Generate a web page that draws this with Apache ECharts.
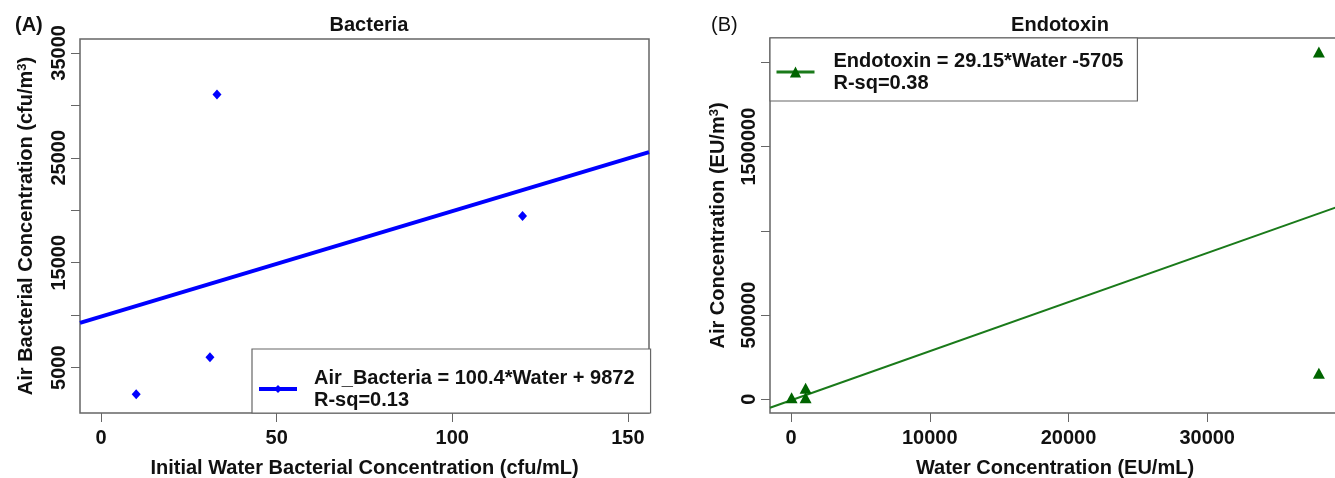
<!DOCTYPE html>
<html>
<head>
<meta charset="utf-8">
<script src="https://cdn.jsdelivr.net/npm/echarts@6/dist/echarts.min.js"></script>
<style>
html,body{margin:0;padding:0;background:#fff;}
#c{width:1335px;height:478px;}
</style>
</head>
<body>
<div id="c"></div>
<script>
// ---- Panel A: Bacteria ----
const bactWater = [10, 31, 33, 120];
const bactAir = [2470, 5990, 31040, 19450];
const bactFitX = [-6, 156];
const bactFitY = [9270, 25534];
const bactXTicks = [0, 50, 100, 150];
const bactYTicks = [5000, 10000, 15000, 20000, 25000, 30000, 35000];
const bactYLabels = [5000, 15000, 25000, 35000];
const bactLegend = 'Air_Bacteria = 100.4*Water + 9872\nR-sq=0.13';

// ---- Panel B: Endotoxin ----
const endoWater = [35, 1045, 1045, 38054, 38054];
const endoAir = [9000, 65500, 9000, 2062000, 155000];
const endoFitX = [-1522, 39576];
const endoFitY = [-50070, 1147940];
const endoXTicks = [0, 10000, 20000, 30000];
const endoYTicks = [0, 500000, 1000000, 1500000, 2000000];
const endoYLabels = [0, 500000, 1500000];
const endoLegend = 'Endotoxin = 29.15*Water -5705\nR-sq=0.38';

const FONT = 'Liberation Sans, Arial, sans-serif';
const TXT = '#111';
const GRAY = '#666';

function zip(a, b) { return a.map((v, i) => [v, b[i]]); }
function plain(v) { return String(v); }

function xAxisCfg(idx, min, max, ticks, name) {
  return {
    type: 'value', gridIndex: idx, min: min, max: max,
    name: name, nameLocation: 'middle', nameGap: 45,
    nameTextStyle: { fontFamily: FONT, fontWeight: 'bold', fontSize: 20, color: TXT },
    axisLine: { show: false, onZero: false },
    axisTick: { show: true, length: 9, lineStyle: { color: GRAY, width: 1 }, customValues: ticks },
    axisLabel: { customValues: ticks, formatter: plain, margin: 15, fontFamily: FONT, fontWeight: 'bold', fontSize: 20, color: TXT },
    splitLine: { show: false }
  };
}
function yAxisCfg(idx, min, max, ticks, labels, name, gap) {
  return {
    type: 'value', gridIndex: idx, min: min, max: max,
    name: name, nameLocation: 'middle', nameGap: gap, nameRotate: 90,
    nameTextStyle: { fontFamily: FONT, fontWeight: 'bold', fontSize: 20, color: TXT,
      rich: { sup: { fontFamily: FONT, fontWeight: 'bold', fontSize: 13, color: TXT, verticalAlign: 'top', lineHeight: 20 } } },
    axisLine: { show: false, onZero: false },
    axisTick: { show: true, length: 9, lineStyle: { color: GRAY, width: 1 }, customValues: ticks },
    axisLabel: { customValues: labels, formatter: plain, rotate: 90, margin: 11, fontFamily: FONT, fontWeight: 'bold', fontSize: 20, color: TXT },
    splitLine: { show: false }
  };
}

const chart = echarts.init(document.getElementById('c'), null, { renderer: 'canvas' });
chart.setOption({
  backgroundColor: '#fff',
  animation: false,
  title: [
    { text: '(A)', left: 10, top: 10, textStyle: { fontFamily: FONT, fontWeight: 'bold', fontSize: 20, color: TXT } },
    { text: 'Bacteria', left: 364, top: 10, textAlign: 'center', textStyle: { fontFamily: FONT, fontWeight: 'bold', fontSize: 20, color: TXT } },
    { text: '(B)', left: 706, top: 10, textStyle: { fontFamily: FONT, fontWeight: 'normal', fontSize: 20, color: TXT } },
    { text: 'Endotoxin', left: 1055, top: 10, textAlign: 'center', textStyle: { fontFamily: FONT, fontWeight: 'bold', fontSize: 20, color: TXT } }
  ],
  grid: [
    { left: 80, top: 39, width: 569, height: 374, show: true, borderColor: GRAY, borderWidth: 1.5, backgroundColor: 'transparent', outerBoundsMode: 'none', containLabel: false },
    { left: 770, top: 38, width: 570, height: 375, show: true, borderColor: GRAY, borderWidth: 1.5, backgroundColor: 'transparent', outerBoundsMode: 'none', containLabel: false }
  ],
  xAxis: [
    xAxisCfg(0, -6, 156, bactXTicks, 'Initial Water Bacterial Concentration (cfu/mL)'),
    xAxisCfg(1, -1522, 39576, endoXTicks, 'Water Concentration (EU/mL)')
  ],
  yAxis: [
    yAxisCfg(0, 680, 36320, bactYTicks, bactYLabels, 'Air Bacterial Concentration (cfu/m{sup|3})', 44),
    yAxisCfg(1, -81500, 2145200, endoYTicks, endoYLabels, 'Air Concentration (EU/m{sup|3})', 42)
  ],
  legend: [
    {
      data: [bactLegend], left: 252, top: 349, orient: 'vertical',
      padding: [18, 16, 2, 5], borderColor: GRAY, borderWidth: 1.2, backgroundColor: '#fff',
      itemWidth: 38, itemHeight: 10, selectedMode: false,
      lineStyle: { width: 4 },
      textStyle: { fontFamily: FONT, fontWeight: 'bold', fontSize: 20, color: TXT, lineHeight: 22, padding: [0, 0, 0, 12] }
    },
    {
      data: [endoLegend], left: 770, top: 38, orient: 'vertical',
      padding: [12, 14, 7, 5], borderColor: GRAY, borderWidth: 1.2, backgroundColor: '#fff',
      itemWidth: 38, itemHeight: 14, selectedMode: false,
      lineStyle: { width: 3 },
      textStyle: { fontFamily: FONT, fontWeight: 'bold', fontSize: 20, color: TXT, lineHeight: 22, padding: [0, 0, 0, 14] }
    }
  ],
  series: [
    {
      name: 'bactPts', type: 'scatter', xAxisIndex: 0, yAxisIndex: 0,
      symbol: 'diamond', symbolSize: [9, 10], itemStyle: { color: '#0000ff', opacity: 1 },
      data: zip(bactWater, bactAir), z: 3
    },
    {
      name: bactLegend, type: 'line', xAxisIndex: 0, yAxisIndex: 0,
      symbol: 'diamond', symbolSize: 8, showSymbol: false,
      lineStyle: { color: '#0000ff', width: 4 }, itemStyle: { color: '#0000ff' },
      data: zip(bactFitX, bactFitY), z: 2
    },
    {
      name: 'endoPts', type: 'scatter', xAxisIndex: 1, yAxisIndex: 1,
      symbol: 'triangle', symbolSize: [12, 11], itemStyle: { color: '#006400', opacity: 1 },
      data: zip(endoWater, endoAir), z: 3
    },
    {
      name: endoLegend, type: 'line', xAxisIndex: 1, yAxisIndex: 1,
      symbol: 'triangle', symbolSize: 11, showSymbol: false,
      lineStyle: { color: '#1a7a1a', width: 2 }, itemStyle: { color: '#006400' },
      data: zip(endoFitX, endoFitY), z: 2
    }
  ]
});
</script>
</body>
</html>
